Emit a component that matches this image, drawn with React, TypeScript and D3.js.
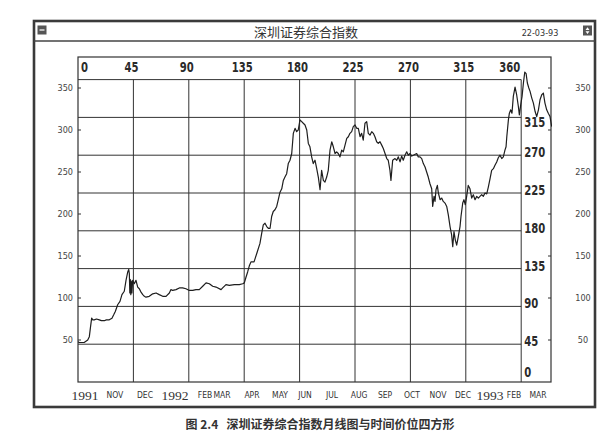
import React from 'react';
import * as d3 from 'd3';

const titleText = '深圳证券综合指数';
const dateText = '22-03-93';
const captionText = '图 2.4   深圳证券综合指数月线图与时间价位四方形';

const squareTicks = [0, 45, 90, 135, 180, 225, 270, 315, 360];
const priceTicks = [50, 100, 150, 200, 250, 300, 350];
const monthLabels = ['1991', 'NOV', 'DEC', '1992', 'FEB', 'MAR', 'APR', 'MAY', 'JUN', 'JUL', 'AUG', 'SEP', 'OCT', 'NOV', 'DEC', '1993', 'FEB', 'MAR'];
const monthDays = [5.7, 30, 54.4, 78.8, 103.2, 117, 141.3, 164.1, 184.4, 206.3, 228.3, 249.4, 271.3, 292.4, 312.7, 334.7, 354.2, 373.7];

// trading-day index (time units of the square) and index level
const tradingDays = [
  0, 1, 5, 7.9, 9.2, 10.2, 11.1, 12, 13.2, 15, 17.3, 19, 21.4, 23, 25.4, 27.6, 29, 30.3, 31.3, 32.2,
  34.1, 35.7, 37.6, 39, 40.4, 41.2, 41.7, 42.1, 42.5, 42.9, 43.3, 43.8, 44.4, 45.7, 47.1, 48.5, 49.8, 51.2, 52.6, 53.9,
  55.2, 57.9, 60.7, 63.4, 66, 68.8, 71.5, 74.2, 75.5, 76.9, 79.6, 82.3, 85, 87.7, 90.4, 93.2, 95.8, 98.5, 101.3, 104,
  106.7, 109.4, 112.1, 116.2, 117.5, 120.2, 122.9, 127, 131, 133.8, 135.1, 136.5, 137.8, 139.1, 140.5, 143, 145.2, 147.8, 149.2, 150.5,
  151.9, 153.3, 154.6, 156, 157.3, 158.6, 160, 161.4, 162.7, 164.1, 165.5, 166.8, 168.1, 169.5, 170.8, 172.2, 173.6, 174.9, 176.3, 177.6,
  178.9, 180.3, 181.7, 183, 184.4, 185.8, 187.1, 188.4, 189.8, 191.1, 192.5, 193.9, 195.2, 196.6, 197.9, 199.3, 200.6, 202, 203.3, 204.7,
  206.1, 207.4, 208.8, 210.1, 211.4, 212.8, 214.2, 215.5, 216.9, 218.3, 219.6, 220.9, 222.3, 223.6, 225, 226.4, 227.7, 229.1, 230.4, 231.7,
  233.1, 234.5, 235.8, 237.2, 238.6, 239.9, 241.2, 242.6, 243.9, 245.3, 246.7, 248, 249.4, 250.8, 252, 253.4, 254.2, 255.6, 257.5, 258.9,
  260.2, 261.6, 262.9, 264.2, 265.6, 267, 268.3, 269.7, 271.1, 272.4, 275.1, 276.4, 277.8, 279.2, 280.5, 281.9, 283.2, 284.5, 285.9, 287.3,
  288.1, 289.2, 290, 290.8, 291.9, 292.7, 294.1, 295.4, 296.7, 298.1, 299.5, 300.8, 302.2, 303.5, 304.4, 305.4, 306.5, 307.6, 308.9, 310.3,
  311.1, 312.5, 313.5, 314.6, 315.7, 317, 318.4, 319.8, 321.1, 322.5, 323.9, 325.2, 326.5, 327.9, 329.2, 330.6, 332, 333.3, 334.7, 336,
  337.4, 338.7, 340.1, 341.4, 342.8, 344.2, 345.5, 346.8, 347.7, 348.3, 349.6, 350.4, 351.5, 352.5, 353.6, 355, 356.3, 357.7, 358.5, 359.6,
  360.7, 361.8, 362.9, 364, 365, 366.2, 367.2, 368.6, 369.9, 371.3, 372.6, 374, 375.3, 376.7, 378, 379.3, 380.7, 382, 383.4, 384.8,
];
const indexValues = [
  48, 47, 47, 50, 54, 66, 76, 74, 74, 75, 74, 73, 73, 74, 74, 76, 80, 84, 88, 92,
  96, 104, 108, 121, 131, 134, 129, 106, 122, 104, 120, 106, 121, 117, 121, 113, 111, 107, 104, 102,
  101, 102, 105, 106, 104, 102, 102, 106, 110, 109, 110, 112, 112, 111, 109, 109, 110, 110, 114, 118,
  117, 114, 113, 110, 112, 116, 115, 116, 116, 117, 118, 125, 131, 138, 143, 143, 153, 165, 177, 187,
  189, 185, 183, 183, 197, 203, 205, 209, 217, 226, 230, 240, 244, 248, 260, 264, 272, 296, 302, 298,
  300, 312, 310, 308, 306, 300, 284, 280, 268, 260, 264, 254, 244, 229, 252, 240, 238, 244, 252, 276,
  286, 280, 272, 274, 272, 268, 276, 274, 282, 290, 292, 296, 298, 304, 306, 302, 302, 292, 296, 288,
  308, 310, 296, 294, 298, 296, 292, 286, 284, 286, 282, 278, 272, 266, 264, 252, 240, 264, 266, 264,
  268, 262, 269, 264, 270, 274, 270, 272, 269, 270, 272, 268, 268, 266, 260, 256, 250, 244, 236, 230,
  209, 221, 215, 229, 234, 225, 217, 219, 215, 213, 209, 199, 185, 175, 161, 179, 169, 163, 173, 185,
  197, 213, 217, 211, 221, 234, 230, 219, 223, 217, 221, 219, 221, 223, 221, 225, 224, 232, 242, 252,
  254, 258, 262, 267, 270, 266, 268, 276, 280, 292, 312, 320, 324, 320, 340, 351, 342, 328, 318, 330,
  340, 356, 369, 367, 356, 350, 346, 338, 332, 322, 316, 324, 336, 342, 344, 332, 324, 320, 316, 304,
];

const W = 616;
const H = 446;
const plotLeft = 78;
const plotRight = 551;
const plotTop = 57;
const plotBottom = 382;

const ink = '#2a2a2a';
const condensed = '"DejaVu Sans Condensed", "DejaVu Sans", sans-serif';
const cjk = '"Noto Sans CJK SC", sans-serif';

export default function App() {
  const x = d3.scaleLinear().domain([0, 360]).range([plotLeft, plotLeft + 443.2]);
  const y = d3.scaleLinear().domain([0, 360]).range([plotBottom, plotBottom - 302.4]);

  const points: [number, number][] = tradingDays.map((t, i) => [t, indexValues[i]]);
  const line = d3
    .line<[number, number]>()
    .x((d) => x(d[0]))
    .y((d) => y(d[1]));

  const gridInner = squareTicks.filter((v) => v > 0);

  const boldLabel = (key: string, px: number, py: number, anchor: string, v: number) => (
    <text
      key={key}
      x={0}
      y={0}
      transform={`translate(${px},${py}) scale(0.86,1.08)`}
      textAnchor={anchor}
      dominantBaseline="central"
      fontFamily={condensed}
      fontWeight="bold"
      fontSize={13}
      fill={ink}
    >
      {v}
    </text>
  );

  return (
    <div style={{ position: 'fixed', left: 0, top: 0, width: W, height: H, background: '#fff' }}>
      <svg width={W} height={H} viewBox={`0 0 ${W} ${H}`} style={{ display: 'block' }}>
        <rect x={0} y={0} width={W} height={H} fill="#fff" />

        {/* window frame */}
        <rect x={34} y={21} width={561} height={386} fill="none" stroke="#3a3a3a" strokeWidth={2.6} />
        <line x1={34} x2={595} y1={41} y2={41} stroke="#444" strokeWidth={1.3} />
        {/* title bar icons */}
        <rect x={37.5} y={25.5} width={9} height={9} fill="#555" />
        <line x1={39.5} x2={44.5} y1={30} y2={30} stroke="#fff" strokeWidth={1.2} />
        <rect x={583} y={25.5} width={9} height={10} fill="#555" />
        <path d="M585.5,30 L587.5,27.2 L589.5,30 Z M585.5,31.3 L587.5,34 L589.5,31.3 Z" fill="#fff" />

        <text x={306} y={31} textAnchor="middle" dominantBaseline="central" fontFamily={cjk} fontSize={13} fill="#333">
          {titleText}
        </text>
        <text x={540} y={33} textAnchor="middle" dominantBaseline="central" fontFamily={condensed} fontSize={9} fill="#333">
          {dateText}
        </text>

        {/* grid squares */}
        {gridInner.map((v) => (
          <line key={'h' + v} x1={x(0)} x2={x(360)} y1={y(v)} y2={y(v)} stroke="#333" strokeWidth={1} />
        ))}
        {gridInner.map((v) => (
          <line key={'v' + v} x1={x(v)} x2={x(v)} y1={y(360)} y2={y(0)} stroke="#333" strokeWidth={1} />
        ))}

        {/* plot box */}
        <rect x={plotLeft} y={plotTop} width={plotRight - plotLeft} height={plotBottom - plotTop} fill="none" stroke="#333" strokeWidth={1.2} />

        {/* price ticks on borders */}
        {priceTicks.map((v) => (
          <g key={'pt' + v}>
            <line x1={plotLeft} x2={plotLeft + 3} y1={y(v)} y2={y(v)} stroke="#333" strokeWidth={1} />
            <line x1={plotRight} x2={plotRight - 3} y1={y(v)} y2={y(v)} stroke="#333" strokeWidth={1} />
            <text x={73} y={y(v)} textAnchor="end" dominantBaseline="central" fontFamily={condensed} fontSize={9} fill="#444">
              {v}
            </text>
            <text x={583} y={y(v)} textAnchor="middle" dominantBaseline="central" fontFamily={condensed} fontSize={9} fill="#444">
              {v}
            </text>
          </g>
        ))}

        {/* top time labels */}
        {squareTicks.map((v) => {
          const anchor = v === 0 ? 'start' : v === 360 ? 'end' : 'middle';
          const px = v === 0 ? x(v) + 3 : v === 360 ? x(v) - 1 : x(v) - 2;
          return boldLabel('tt' + v, px, 67, anchor, v);
        })}

        {/* right inner price-square labels */}
        {squareTicks
          .filter((v) => v < 360)
          .map((v) => {
            const off = v === 0 ? -10 : v === 315 ? 5 : -3;
            return boldLabel('rt' + v, x(360) + 3, y(v) + off, 'start', v);
          })}

        {/* index line */}
        <clipPath id="plotclip">
          <rect x={plotLeft} y={plotTop} width={plotRight - plotLeft + 1} height={plotBottom - plotTop} />
        </clipPath>
        <path d={line(points) || ''} fill="none" stroke="#1e1e1e" strokeWidth={1.2} strokeLinejoin="round" clipPath="url(#plotclip)" />

        {/* month labels */}
        {monthLabels.map((m, i) => {
          const isYear = /^\d+$/.test(m);
          return (
            <text
              key={'m' + i}
              x={x(monthDays[i])}
              y={395}
              textAnchor="middle"
              dominantBaseline="central"
              fontFamily={isYear ? '"Liberation Serif", serif' : condensed}
              fontSize={isYear ? 13.5 : 8.5}
              fill="#333"
            >
              {m}
            </text>
          );
        })}

        <text x={320} y={423} textAnchor="middle" dominantBaseline="central" fontFamily={cjk} fontWeight="bold" fontSize={12} fill="#333" style={{ whiteSpace: 'pre' }}>
          {captionText}
        </text>
      </svg>
    </div>
  );
}
